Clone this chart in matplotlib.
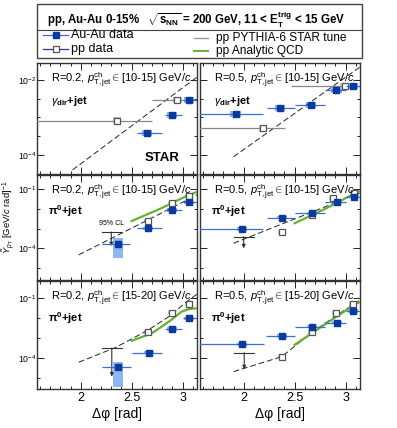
import matplotlib
matplotlib.use("Agg")
import matplotlib.pyplot as plt
from matplotlib.patches import Rectangle
from matplotlib.lines import Line2D
from matplotlib.ticker import FixedLocator, NullFormatter, FixedFormatter
import numpy as np

plt.rcParams['font.family'] = ['Liberation Sans', 'DejaVu Sans']
plt.rcParams['mathtext.fontset'] = 'custom'
plt.rcParams['mathtext.rm'] = 'Liberation Sans'
plt.rcParams['mathtext.it'] = 'Liberation Sans:italic'
plt.rcParams['mathtext.bf'] = 'Liberation Sans:bold'

W, H = 397, 428

# ---- data ----
# panel: gamma_dir+jet, R=0.2, pT,jet 10-15
a_aa_x = [2.65, 2.90, 3.06]
a_aa_y = [3.8e-4, 1.17e-3, 2.9e-3]
a_aa_xlo = [2.55, 2.83, 3.00]
a_aa_xhi = [2.80, 2.99, 3.14]
a_pp_x = [2.36, 2.95]
a_pp_y = [8.2e-4, 2.9e-3]
a_pp_xlo = [1.50, 2.70]
a_pp_xhi = [2.70, 3.14]
a_py_x = [1.92, 3.14]
a_py_y = [10 ** -4.4, 10 ** -1.93]

# panel: gamma_dir+jet, R=0.5, pT,jet 10-15
b_aa_x = [1.92, 2.36, 2.66, 2.91, 3.07]
b_aa_y = [1.2e-3, 1.75e-3, 2.15e-3, 5.4e-3, 6.9e-3]
b_aa_xlo = [1.50, 2.23, 2.50, 2.80, 3.00]
b_aa_xhi = [2.19, 2.50, 2.80, 3.00, 3.14]
b_pp_x = [2.19, 2.99]
b_pp_y = [5.1e-4, 6.9e-3]
b_pp_xlo = [1.50, 2.46]
b_pp_xhi = [2.41, 3.14]
b_py_x = [1.90, 3.14]
b_py_y = [10 ** -4.05, 10 ** -1.66]

# panel: pi0+jet, R=0.2, pT,jet 10-15
c_aa_x = [2.37, 2.66, 2.90, 3.06]
c_aa_y = [1.66e-4, 1.03e-3, 8.7e-3, 2.1e-2]
c_aa_xlo = [2.21, 2.55, 2.83, 3.00]
c_aa_xhi = [2.48, 2.80, 2.99, 3.14]
c_pp_x = [2.66, 2.90, 3.06]
c_pp_y = [2.4e-3, 1.9e-2, 4.5e-2]
c_ul = (2.30, 6.7e-4, 2.21, 2.41, 1.3e-4)
c_py_x = [1.98, 2.66, 3.14]
c_py_y = [10 ** -4.33, 10 ** -2.56, 10 ** -1.3]
c_qcd_x = [2.50, 2.80, 3.04, 3.14]
c_qcd_y = [10 ** -2.62, 10 ** -1.95, 10 ** -1.35, 10 ** -1.15]

# panel: pi0+jet, R=0.5, pT,jet 10-15
d_aa_x = [1.98, 2.375, 2.67, 2.915, 3.08]
d_aa_y = [9.5e-4, 3.6e-3, 5.9e-3, 2.1e-2, 4.1e-2]
d_aa_xlo = [1.50, 2.23, 2.50, 2.80, 3.00]
d_aa_xhi = [2.19, 2.50, 2.80, 3.00, 3.14]
d_pp_x = [2.375, 2.67, 2.88, 3.08]
d_pp_y = [6.5e-4, 5.0e-3, 3.4e-2, 6.3e-2]
d_ul = (2.00, 3.9e-4, 1.90, 2.10, 1.0e-4)
d_py_x = [1.90, 2.58, 3.14]
d_py_y = [10 ** -3.74, 10 ** -2.35, 10 ** -1.2]
d_qcd_x = [2.50, 2.80, 3.06, 3.14]
d_qcd_y = [10 ** -2.73, 10 ** -2.0, 10 ** -1.3, 10 ** -1.1]

# panel: pi0+jet, R=0.2, pT,jet 15-20
e_aa_x = [2.37, 2.67, 2.90, 3.06]
e_aa_y = [3.8e-5, 1.9e-4, 2.9e-3, 1.0e-2]
e_aa_xlo = [2.21, 2.50, 2.83, 3.00]
e_aa_xhi = [2.49, 2.80, 2.99, 3.14]
e_pp_x = [2.66, 2.90, 3.06]
e_pp_y = [2.0e-3, 1.9e-2, 5.2e-2]
e_ul = (2.305, 3.2e-4, 2.21, 2.41, 1.2e-5)
e_py_x = [1.98, 2.34, 2.66, 2.89, 3.02, 3.14]
e_py_y = [10 ** -4.2, 10 ** -3.47, 10 ** -2.6, 10 ** -1.84, 10 ** -1.25, 10 ** -0.8]
e_qcd_x = [2.50, 2.70, 2.88, 2.99, 3.06, 3.14]
e_qcd_y = [10 ** -3.13, 10 ** -2.75, 10 ** -2.12, 10 ** -1.67, 10 ** -1.55, 10 ** -1.5]

# panel: pi0+jet, R=0.5, pT,jet 15-20
f_aa_x = [1.98, 2.375, 2.67, 2.915, 3.07]
f_aa_y = [5.0e-4, 1.3e-3, 3.8e-3, 6.0e-3, 2.3e-2]
f_aa_xlo = [1.50, 2.22, 2.50, 2.80, 3.00]
f_aa_xhi = [2.20, 2.50, 2.80, 3.00, 3.14]
f_pp_x = [2.375, 2.67, 2.905, 3.07]
f_pp_y = [1.2e-4, 2.0e-3, 1.8e-2, 5.2e-2]
f_ul = (2.005, 1.9e-4, 1.90, 2.10, 2.8e-5)
f_py_x = [1.90, 2.375, 2.67, 2.90, 3.14]
f_py_y = [10 ** -4.67, 10 ** -3.92, 10 ** -2.7, 10 ** -1.9, 10 ** -1.1]
f_qcd_x = [2.50, 2.80, 3.11, 3.14]
f_qcd_y = [10 ** -3.33, 10 ** -2.3, 10 ** -1.25, 10 ** -1.2]

# systematic half-heights in decades (Au-Au), first points of pi0 R=0.2 are large
c_aa_sys = [(0.70, 0.31), (0.08, 0.08), (0.08, 0.08), (0.08, 0.08)]
e_aa_sys = [(1.01, 0.25), (0.08, 0.08), (0.08, 0.08), (0.08, 0.08)]

AA_FACE = '#0b3a9e'
AA_LINE = '#3b6fd6'
AA_SYS = '#8fb6f2'
PP_EDGE = '#555555'
PP_SYS = '#c4c4c4'
GREEN = '#66b032'

fig = plt.figure(figsize=(W / 100, H / 100), dpi=100)


def rect(x0, x1, y0, y1):
    return [x0 / W, 1 - y1 / H, (x1 - x0) / W, (y1 - y0) / H]


def sysbox(ax, x, y, dlo, dhi, color, w=0.05):
    ax.add_patch(Rectangle((x - w, y * 10 ** -dlo), 2 * w, y * (10 ** dhi - 10 ** -dlo),
                           facecolor=color, edgecolor='none', zorder=2))


def panel(box, ylim, yticks, ylabels, minor, aa, pp, py, qcd=None, ul=None,
          aa_sys=None, pp_gray=False, xlabels=False, ylab=True):
    ax = fig.add_axes(rect(*box))
    ax.set_yscale('log')
    ax.set_xlim(np.pi / 2, np.pi)
    ax.set_ylim(*ylim)
    aa_x, aa_y, aa_xlo, aa_xhi = aa
    pp_x, pp_y, pp_xlo, pp_xhi = pp
    if aa_sys is None:
        aa_sys = [(0.08, 0.08)] * len(aa_x)
    for x, y, s in zip(aa_x, aa_y, aa_sys):
        sysbox(ax, x, y, s[0], s[1], AA_SYS)
    for x, y in zip(pp_x, pp_y):
        sysbox(ax, x, y, 0.09, 0.09, PP_SYS, w=0.04)
    ax.plot(py[0], py[1], color='#222222', lw=0.7, dashes=(6, 3), zorder=3)
    if qcd is not None:
        ax.plot(qcd[0], qcd[1], color=GREEN, lw=1.6, zorder=3)
    ax.errorbar(pp_x, pp_y,
                xerr=[np.subtract(pp_x, pp_xlo), np.subtract(pp_xhi, pp_x)],
                fmt='s', ms=4.2, mfc='white', mec=PP_EDGE, mew=0.9,
                ecolor='#888888' if pp_gray else '#555555', elinewidth=0.9,
                capsize=0, zorder=4)
    ax.errorbar(aa_x, aa_y,
                xerr=[np.subtract(aa_x, aa_xlo), np.subtract(aa_xhi, aa_x)],
                fmt='s', ms=4.2, mfc=AA_FACE, mec=AA_FACE,
                ecolor=AA_LINE, elinewidth=0.9, capsize=0, zorder=5)
    if ul is not None:
        x, y, x0, x1, yend = ul
        ax.plot([x0, x1], [y, y], color='#333333', lw=0.8, zorder=4)
        ax.annotate('', xy=(x, yend), xytext=(x, y),
                    arrowprops=dict(arrowstyle='-|>', color='#333333', lw=0.8,
                                    mutation_scale=5, shrinkA=0, shrinkB=0), zorder=4)
    ax.yaxis.set_major_locator(FixedLocator(yticks))
    ax.yaxis.set_major_formatter(FixedFormatter(ylabels if ylab else [''] * len(yticks)))
    ax.yaxis.set_minor_locator(FixedLocator(minor))
    ax.yaxis.set_minor_formatter(NullFormatter())
    ax.xaxis.set_major_locator(FixedLocator([2.0, 2.5, 3.0]))
    ax.xaxis.set_minor_locator(FixedLocator(np.arange(1.6, 3.15, 0.1)))
    if not xlabels:
        ax.set_xticklabels([])
    else:
        ax.set_xticklabels(['2', '2.5', '3'])
    ax.tick_params(which='both', direction='in', top=True, right=True,
                   labelsize=9, pad=2, width=0.6)
    ax.tick_params(which='major', length=5)
    ax.tick_params(which='minor', length=2.5)
    ax.tick_params(axis='y', labelsize=6.3, pad=0.5)
    for s in ax.spines.values():
        s.set_linewidth(1.0)
        s.set_color('#333333')
    return ax


top_lim = (10 ** -4.51, 10 ** -1.55)
mid_lim = (10 ** -5.6, 10 ** -0.29)
bot_lim = (10 ** -5.54, 10 ** -0.14)
top_ticks, top_lab = [1e-4, 1e-2], [r'$10^{-4}$', r'$10^{-2}$']
top_minor = [10 ** -4.5, 10 ** -3.5, 1e-3, 10 ** -2.5]
low_ticks, low_lab = [1e-4, 1e-1], [r'$10^{-4}$', r'$10^{-1}$']
low_minor = [1e-5, 1e-3, 1e-2]

LX = (37, 197)
RX = (200, 360)
ROW1 = (63, 174)
ROW2 = (175, 280)
ROW3 = (281, 389)

axA = panel((*LX, *ROW1), top_lim, top_ticks, top_lab, top_minor,
            (a_aa_x, a_aa_y, a_aa_xlo, a_aa_xhi), (a_pp_x, a_pp_y, a_pp_xlo, a_pp_xhi),
            (a_py_x, a_py_y), pp_gray=True)
axB = panel((*RX, *ROW1), top_lim, top_ticks, top_lab, top_minor,
            (b_aa_x, b_aa_y, b_aa_xlo, b_aa_xhi), (b_pp_x, b_pp_y, b_pp_xlo, b_pp_xhi),
            (b_py_x, b_py_y), pp_gray=True, ylab=False)
axC = panel((*LX, *ROW2), mid_lim, low_ticks, low_lab, low_minor,
            (c_aa_x, c_aa_y, c_aa_xlo, c_aa_xhi),
            (c_pp_x, c_pp_y, np.subtract(c_pp_x, 0.02), np.add(c_pp_x, 0.02)),
            (c_py_x, c_py_y), qcd=(c_qcd_x, c_qcd_y), ul=c_ul, aa_sys=c_aa_sys)
axD = panel((*RX, *ROW2), mid_lim, low_ticks, low_lab, low_minor,
            (d_aa_x, d_aa_y, d_aa_xlo, d_aa_xhi),
            (d_pp_x, d_pp_y, np.subtract(d_pp_x, 0.02), np.add(d_pp_x, 0.02)),
            (d_py_x, d_py_y), qcd=(d_qcd_x, d_qcd_y), ul=d_ul, ylab=False)
axE = panel((*LX, *ROW3), bot_lim, low_ticks, low_lab, low_minor,
            (e_aa_x, e_aa_y, e_aa_xlo, e_aa_xhi),
            (e_pp_x, e_pp_y, np.subtract(e_pp_x, 0.02), np.add(e_pp_x, 0.02)),
            (e_py_x, e_py_y), qcd=(e_qcd_x, e_qcd_y), ul=e_ul, aa_sys=e_aa_sys,
            xlabels=True)
axF = panel((*RX, *ROW3), bot_lim, low_ticks, low_lab, low_minor,
            (f_aa_x, f_aa_y, f_aa_xlo, f_aa_xhi),
            (f_pp_x, f_pp_y, np.subtract(f_pp_x, 0.02), np.add(f_pp_x, 0.02)),
            (f_py_x, f_py_y), qcd=(f_qcd_x, f_qcd_y), ul=f_ul, xlabels=True, ylab=False)

# panel texts
lab = r'R=%s, $p_{\mathrm{T,jet}}^{\mathrm{ch}}\in$[%s] GeV/$c$'
for ax, r, b in [(axA, '0.2', '10-15'), (axB, '0.5', '10-15'), (axC, '0.2', '10-15'),
                 (axD, '0.5', '10-15'), (axE, '0.2', '15-20'), (axF, '0.5', '15-20')]:
    ax.text(0.09, 0.93, lab % (r, b), transform=ax.transAxes, fontsize=8,
            va='top', ha='left', zorder=6)
for ax in (axA, axB):
    ax.text(0.09, 0.66, r'$\gamma_{\mathbf{dir}}$+jet', transform=ax.transAxes,
            fontsize=8, fontweight='bold', va='center')
for ax in (axC, axD, axE, axF):
    ax.text(0.07, 0.66, r'$\mathbf{\pi^{0}}$+jet', transform=ax.transAxes,
            fontsize=8, fontweight='bold', va='center')
axA.text(0.78, 0.14, 'STAR', transform=axA.transAxes, fontsize=9.5,
         fontweight='bold', ha='center', va='center')
axC.text(c_ul[0], c_ul[1] * 1.9, '95% CL', fontsize=5, ha='center', va='bottom')

for ax in (axE, axF):
    ax.set_xlabel('Δφ [rad]', fontsize=10, labelpad=2)

fig.text(0.5 / W, 1 - 217 / H, r'$\tilde{Y}_{p_{\mathrm{T}}}$ [GeV/$c$ rad]$^{-1}$',
         rotation=90, fontsize=6.8, ha='left', va='center')

# header legend box
fig.add_artist(Rectangle((37 / W, 1 - 58 / H), (362 - 37) / W, 54 / H,
                         transform=fig.transFigure, fill=False, lw=1.0, ec='#444444'))
fig.add_artist(Line2D([37 / W, 362 / W], [1 - 30 / H, 1 - 30 / H],
                      transform=fig.transFigure, lw=0.8, color='#444444'))
fig.text(47 / W, 1 - 20 / H,
         r'pp, Au-Au 0-15%   $\sqrt{\mathbf{s_{NN}}}$ = 200 GeV, 11 < $\mathbf{E_T^{trig}}$ < 15 GeV',
         fontsize=8.3, fontweight='bold', va='center')

fig.add_artist(Line2D([43 / W, 68 / W], [1 - 35 / H] * 2, transform=fig.transFigure,
                      color=AA_LINE, lw=0.9))
fig.add_artist(Line2D([56 / W], [1 - 35 / H], transform=fig.transFigure,
                      marker='s', ms=4.2, mfc=AA_FACE, mec=AA_FACE, lw=0))
fig.add_artist(Line2D([43 / W, 68 / W], [1 - 49 / H] * 2, transform=fig.transFigure,
                      color='#333399', lw=0.9))
fig.add_artist(Line2D([56 / W], [1 - 49 / H], transform=fig.transFigure,
                      marker='s', ms=4.2, mfc='white', mec=PP_EDGE, mew=0.9, lw=0))
fig.text(71 / W, 1 - 35 / H, 'Au-Au data', fontsize=9, va='center')
fig.text(71 / W, 1 - 49 / H, 'pp data', fontsize=9, va='center')
fig.add_artist(Line2D([194 / W, 208 / W], [1 - 38 / H] * 2, transform=fig.transFigure,
                      color='#999999', lw=1.0))
fig.add_artist(Line2D([194 / W, 208 / W], [1 - 51 / H] * 2, transform=fig.transFigure,
                      color=GREEN, lw=1.4))
fig.text(216 / W, 1 - 38 / H, 'pp PYTHIA-6 STAR tune', fontsize=8.6, va='center')
fig.text(216 / W, 1 - 51 / H, 'pp Analytic QCD', fontsize=8.6, va='center')

fig.savefig('out.png', dpi=100)
